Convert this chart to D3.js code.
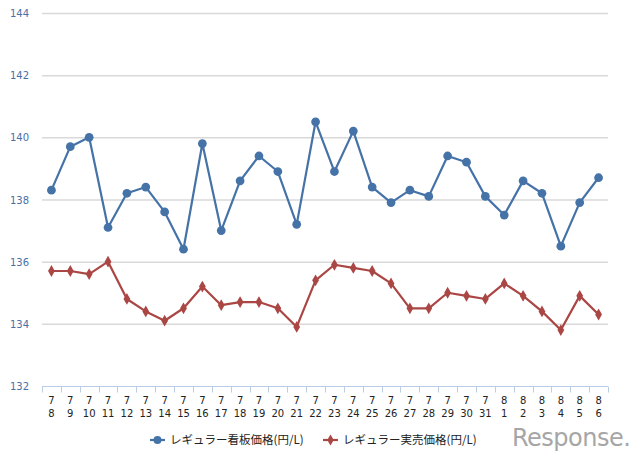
<!DOCTYPE html>
<html>
<head>
<meta charset="utf-8">
<script src="https://cdn.jsdelivr.net/npm/d3@7/dist/d3.min.js"></script>
<style>
  body { margin: 0; background: #fff; }
  svg { display: block; font-family: "DejaVu Sans", "Noto Sans CJK JP", sans-serif; }
</style>
</head>
<body>
<svg width="640" height="458"></svg>
<script>
// dates (month / day)
var months = [7,7,7,7,7,7,7,7,7,7,7,7,7,7,7,7,7,7,7,7,7,7,7,7,8,8,8,8,8,8];
var days   = [8,9,10,11,12,13,14,15,16,17,18,19,20,21,22,23,24,25,26,27,28,29,30,31,1,2,3,4,5,6];

// レギュラー看板価格 (円/L)
var signPrice = [138.3,139.7,140.0,137.1,138.2,138.4,137.6,136.4,139.8,137.0,138.6,139.4,138.9,137.2,140.5,
                 138.9,140.2,138.4,137.9,138.3,138.1,139.4,139.2,138.1,137.5,138.6,138.2,136.5,137.9,138.7];
// レギュラー実売価格 (円/L)
var salePrice = [135.7,135.7,135.6,136.0,134.8,134.4,134.1,134.5,135.2,134.6,134.7,134.7,134.5,133.9,135.4,
                 135.9,135.8,135.7,135.3,134.5,134.5,135.0,134.9,134.8,135.3,134.9,134.4,133.8,134.9,134.3];

var yTicks = [132,134,136,138,140,142,144];
var seriesNames = ["レギュラー看板価格(円/L)", "レギュラー実売価格(円/L)"];
var colors = ["#4572a7", "#aa4643"];

var svg = d3.select("svg"),
    plotLeft = 42, plotRight = 608, plotTop = 13, plotBottom = 386;

var idx = d3.range(days.length);

var x = d3.scaleBand()
    .domain(idx)
    .range([plotLeft, plotRight]);

var y = d3.scaleLinear()
    .domain([132, 144])
    .range([plotBottom, plotTop]);

// gridlines
svg.append("g")
    .selectAll("line")
    .data(yTicks.filter(function(d){ return d > 132; }))
    .enter()
    .append("line")
    .attr("x1", plotLeft)
    .attr("x2", plotRight)
    .attr("y1", function(d){ return y(d) + 0.5; })
    .attr("y2", function(d){ return y(d) + 0.5; })
    .attr("stroke", "#d9d9d9")
    .attr("stroke-width", 1.5);

// y labels
svg.append("g")
    .selectAll("text")
    .data(yTicks)
    .enter()
    .append("text")
    .attr("x", 29)
    .attr("y", function(d){ return y(d) + 4; })
    .attr("text-anchor", "end")
    .attr("font-size", 10)
    .attr("fill", "#4a6fa5")
    .text(function(d){ return d; });

// x axis
var xAxis = svg.append("g")
    .attr("transform", "translate(0," + (plotBottom + 0.5) + ")");

xAxis.append("line")
    .attr("x1", plotLeft)
    .attr("x2", plotRight)
    .attr("stroke", "#b9cde5")
    .attr("stroke-width", 1);

xAxis.selectAll(".tick")
    .data(d3.range(days.length + 1))
    .enter()
    .append("line")
    .attr("x1", function(d){ return Math.round(plotLeft + d * x.step()) + 0.5; })
    .attr("x2", function(d){ return Math.round(plotLeft + d * x.step()) + 0.5; })
    .attr("y1", 0)
    .attr("y2", 6)
    .attr("stroke", "#b9cde5");

xAxis.selectAll(".m")
    .data(idx)
    .enter()
    .append("text")
    .attr("x", function(d){ return x(d) + x.bandwidth() / 2; })
    .attr("y", 17)
    .attr("text-anchor", "middle")
    .attr("font-size", 10)
    .attr("fill", "#222")
    .text(function(d){ return months[d]; });

xAxis.selectAll(".d")
    .data(idx)
    .enter()
    .append("text")
    .attr("x", function(d){ return x(d) + x.bandwidth() / 2; })
    .attr("y", 30)
    .attr("text-anchor", "middle")
    .attr("font-size", 10)
    .attr("fill", "#222")
    .text(function(d){ return days[d]; });

var line = function(values) {
    return d3.line()
        .x(function(d){ return x(d) + x.bandwidth() / 2; })
        .y(function(d){ return y(values[d]); })(idx);
};

[signPrice, salePrice].forEach(function(values, i){
    svg.append("path")
        .attr("d", line(values))
        .attr("fill", "none")
        .attr("stroke", colors[i])
        .attr("stroke-width", 2.2)
        .attr("stroke-linejoin", "round");

    svg.append("g")
        .selectAll("path")
        .data(idx)
        .enter()
        .append("path")
        .attr("transform", function(d){
            return "translate(" + (x(d) + x.bandwidth() / 2) + "," + y(values[d]) + ")";
        })
        .attr("d", d3.symbol().type(i === 0 ? d3.symbolCircle : d3.symbolDiamond).size(i === 0 ? 60 : 40))
        .attr("fill", colors[i]);
});

// legend
var legendX = [150, 323];
var legend = svg.append("g")
    .selectAll("g")
    .data(seriesNames)
    .enter()
    .append("g")
    .attr("transform", function(d, i){ return "translate(" + legendX[i] + ",440)"; });

legend.append("line")
    .attr("x1", 0).attr("x2", 15)
    .attr("stroke", function(d, i){ return colors[i]; })
    .attr("stroke-width", 2.2);

legend.append("path")
    .attr("transform", "translate(7.5,0)")
    .attr("d", function(d, i){
        return d3.symbol().type(i === 0 ? d3.symbolCircle : d3.symbolDiamond).size(i === 0 ? 50 : 36)();
    })
    .attr("fill", function(d, i){ return colors[i]; });

legend.append("text")
    .attr("x", 20)
    .attr("y", 4)
    .attr("font-size", 11.5)
    .attr("font-family", "Noto Sans CJK JP, sans-serif")
    .attr("fill", "#222")
    .text(function(d){ return d; });

// watermark
svg.append("text")
    .attr("x", 512)
    .attr("y", 446)
    .attr("font-size", 24)
    .attr("font-family", "DejaVu Sans, sans-serif")
    .attr("fill", "#a6a6a6")
    .attr("letter-spacing", -0.5)
    .text("Response.");
</script>
</body>
</html>
